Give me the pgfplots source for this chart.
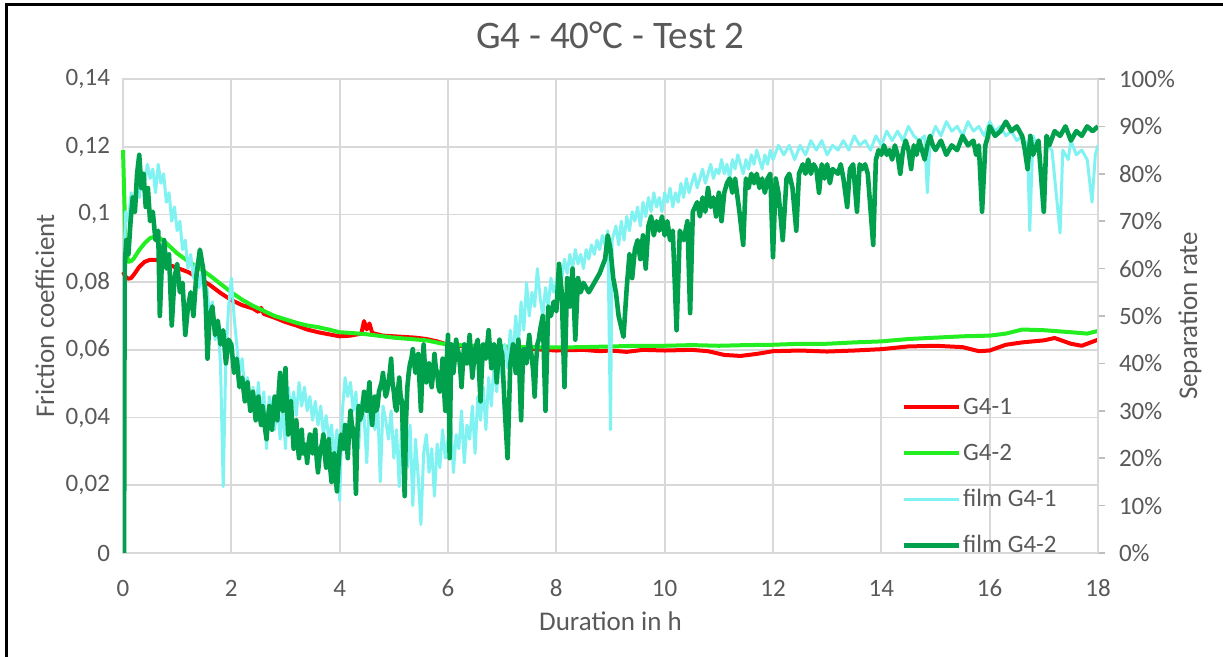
\documentclass[border=0pt]{standalone}
\usepackage{pgfplots}
\pgfplotsset{compat=1.18}
\usepackage{pgfplotstable}
\usepackage{fontspec}
\setmainfont{Carlito}
\definecolor{txt}{HTML}{595959}
\definecolor{gridc}{HTML}{D9D9D9}
\definecolor{redline}{HTML}{FF0000}
\definecolor{greenline}{HTML}{22EE22}
\definecolor{cyanline}{HTML}{80F2F2}
\definecolor{darkgreen}{HTML}{00A04C}

% friction coefficient G4-1
\pgfplotstableread{
x y
0 0.0830
0.05 0.0815
0.1 0.0810
0.15 0.0812
0.2 0.0822
0.3 0.0845
0.4 0.0860
0.5 0.0866
0.6 0.0866
0.7 0.0860
0.8 0.0853
0.9 0.0848
1.0 0.0842
1.2 0.0830
1.4 0.0812
1.6 0.0792
1.8 0.0768
2.0 0.0747
2.2 0.0732
2.4 0.0722
2.5 0.0712
2.55 0.0724
2.6 0.0706
2.8 0.0695
3.0 0.0682
3.2 0.0672
3.4 0.0660
3.6 0.0652
3.8 0.0646
4.0 0.0640
4.2 0.0642
4.4 0.0648
4.45 0.0685
4.5 0.0660
4.55 0.0678
4.6 0.0650
4.8 0.0642
5.0 0.0640
5.2 0.0638
5.4 0.0636
5.6 0.0632
5.8 0.0625
6.0 0.0615
6.2 0.0612
6.5 0.0610
7.0 0.0607
7.5 0.0603
8.0 0.0598
8.5 0.0600
8.8 0.0596
9.0 0.0598
9.3 0.0594
9.6 0.0600
10.0 0.0598
10.5 0.0600
10.8 0.0596
11.1 0.0585
11.4 0.0582
11.7 0.0588
12.0 0.0596
12.5 0.0598
13.0 0.0595
13.5 0.0598
14.0 0.0602
14.5 0.0610
15.0 0.0612
15.5 0.0608
15.8 0.0596
16.0 0.0598
16.3 0.0615
16.6 0.0622
17.0 0.0628
17.2 0.0635
17.5 0.0618
17.7 0.0612
18.0 0.0630
}\tabAa

% friction coefficient G4-2
\pgfplotstableread{
x y
0 0.1190
0.05 0.0900
0.1 0.0860
0.15 0.0862
0.2 0.0870
0.3 0.0895
0.4 0.0915
0.5 0.0930
0.6 0.0935
0.7 0.0928
0.8 0.0915
0.9 0.0900
1.0 0.0885
1.2 0.0862
1.4 0.0842
1.6 0.0820
1.8 0.0795
2.0 0.0770
2.2 0.0748
2.4 0.0730
2.6 0.0715
2.8 0.0700
3.0 0.0690
3.2 0.0680
3.4 0.0672
3.6 0.0667
3.8 0.0660
4.0 0.0652
4.2 0.0650
4.5 0.0646
4.8 0.0640
5.0 0.0636
5.3 0.0632
5.6 0.0628
6.0 0.0615
6.5 0.0612
7.0 0.0610
7.5 0.0608
8.0 0.0607
8.5 0.0608
9.0 0.0610
9.5 0.0612
10.0 0.0612
10.5 0.0614
11.0 0.0612
11.5 0.0614
12.0 0.0615
12.5 0.0618
13.0 0.0618
13.5 0.0622
14.0 0.0625
14.5 0.0632
15.0 0.0636
15.5 0.0640
16.0 0.0642
16.3 0.0648
16.6 0.0660
17.0 0.0658
17.5 0.0652
17.8 0.0648
18.0 0.0656
}\tabAb

% separation rate film G4-1 (%)
\pgfplotstableread{
x y
0 0
0.02 60
0.05 72
0.1 70
0.15 76
0.2 72
0.25 78
0.3 75
0.35 80
0.4 78
0.45 82
0.5 79
0.55 81
0.6 76
0.65 82
0.7 78
0.75 80
0.8 74
0.85 76
0.9 70
0.95 73
1.0 68
1.05 70
1.1 64
1.15 66
1.2 60
1.25 63
1.3 58
1.35 61
1.4 56
1.45 59
1.5 54
1.55 56
1.6 50
1.65 53
1.7 45
1.75 48
1.8 40
1.85 14
1.9 42
1.95 52
2.0 58
2.05 50
2.1 44
2.15 38
2.2 41
2.25 34
2.3 37
2.35 30
2.4 35
2.45 29
2.5 36
2.55 28
2.6 34
2.65 22
2.7 33
2.75 30
2.8 26
2.85 32
2.9 24
2.95 31
3.0 22
3.05 35
3.1 30
3.15 34
3.2 29
3.25 36
3.3 31
3.35 35
3.4 30
3.45 33
3.5 28
3.55 32
3.6 27
3.65 31
3.7 25
3.75 29
3.8 24
3.85 27
3.9 20
3.95 26
4.0 11
4.05 30
4.1 37
4.15 33
4.2 36
4.25 30
4.3 34
4.35 22
4.4 32
4.45 29
4.5 19
4.55 33
4.6 30
4.65 26
4.7 32
4.75 15
4.8 31
4.85 28
4.9 24
4.95 30
5.0 20
5.05 26
5.1 14
5.15 28
5.2 22
5.25 18
5.3 27
5.35 10
5.4 24
5.45 16
5.5 6
5.55 21
5.6 25
5.65 17
5.7 22
5.75 12
5.8 23
5.85 18
5.9 26
5.95 20
6.0 24
6.05 28
6.1 17
6.15 25
6.2 22
6.25 30
6.3 19
6.35 27
6.4 24
6.45 31
6.5 21
6.55 33
6.6 28
6.65 35
6.7 26
6.75 37
6.8 31
6.85 40
6.9 34
6.95 42
7.0 37
7.05 44
7.1 39
7.15 47
7.2 41
7.25 50
7.3 44
7.35 53
7.4 47
7.45 57
7.5 50
7.55 55
7.6 52
7.65 60
7.7 54
7.75 50
7.8 56
7.85 52
7.9 58
7.95 55
8.0 57
8.05 61
8.1 58
8.15 62
8.2 59
8.25 63
8.3 60
8.35 64
8.4 61
8.45 63
8.5 60
8.55 64
8.6 62
8.65 65
8.7 63
8.75 66
8.8 64
8.85 67
8.9 65
8.95 68
9.0 26
9.03 66
9.1 69
9.15 65
9.2 70
9.25 66
9.3 71
9.35 68
9.4 72
9.45 70
9.5 73
9.55 69
9.6 74
9.65 71
9.7 75
9.75 72
9.8 76
9.85 73
9.9 75
9.95 72
10.0 76
10.05 74
10.1 77
10.15 73
10.2 76
10.25 74
10.3 78
10.35 75
10.4 79
10.45 76
10.5 78
10.55 80
10.6 77
10.65 79
10.7 81
10.75 78
10.8 80
10.85 82
10.9 79
10.95 81
11.0 80
11.05 83
11.1 80
11.15 82
11.2 79
11.25 83
11.3 81
11.35 84
11.4 82
11.45 80
11.5 83
11.55 81
11.6 84
11.65 82
11.7 85
11.75 83
11.8 81
11.85 84
11.9 82
11.95 85
12.0 83
12.1 86
12.2 84
12.3 86
12.4 83
12.5 86
12.6 84
12.7 87
12.8 85
12.9 87
13.0 84
13.1 86
13.2 85
13.3 87
13.4 85
13.5 88
13.6 86
13.7 87
13.8 85
13.9 88
14.0 86
14.1 89
14.2 87
14.3 89
14.4 87
14.5 90
14.6 88
14.7 87
14.8 88
14.85 76
14.9 87
15.0 90
15.1 88
15.2 91
15.3 89
15.4 90
15.5 88
15.6 91
15.7 89
15.8 90
15.9 88
16.0 91
16.1 89
16.2 90
16.3 88
16.4 89
16.5 87
16.6 88
16.7 86
16.74 68
16.8 88
16.9 85
16.98 72
17.05 86
17.15 85
17.3 67.5
17.35 85
17.45 83
17.5 87
17.6 84
17.7 85
17.8 83
17.89 74
17.95 84
18.0 86
}\tabBa

% separation rate film G4-2 (%)
\pgfplotstableread{
x y
0 0
0.02 0
0.03 60
0.06 66
0.1 63
0.14 70
0.18 75
0.22 72
0.26 80
0.3 84
0.34 77
0.38 80
0.42 73
0.46 77
0.5 70
0.55 72
0.6 66
0.65 68
0.68 50
0.72 62
0.76 66
0.8 60
0.85 63
0.9 48
0.95 58
1.0 61
1.05 55
1.1 57
1.15 46
1.2 52
1.25 55
1.3 50
1.35 58
1.42 64
1.48 60
1.52 55
1.56 41
1.6 50
1.65 52
1.7 46
1.75 49
1.8 44
1.85 47
1.9 40
1.95 45
2.0 44
2.05 38
2.1 41
2.15 35
2.2 37
2.25 32
2.3 36
2.35 30
2.4 34
2.45 28
2.5 33
2.525 29
2.55 27
2.575 31
2.6 29
2.625 26
2.65 24
2.675 28
2.7 31
2.725 29
2.75 26
2.775 30
2.8 33
2.825 31
2.85 28
2.875 34
2.9 38
2.925 33
2.95 30
2.975 35
3.0 39
3.025 31
3.05 25
3.075 29
3.1 32
3.125 27
3.15 22
3.175 25
3.2 28
3.225 23
3.25 20
3.275 24
3.3 26
3.325 21
3.35 23
3.375 22
3.4 19
3.425 23
3.45 25
3.475 22
3.5 21
3.525 24
3.55 26
3.575 20
3.6 17
3.625 20
3.65 22
3.675 23
3.7 25
3.725 21
3.75 18
3.775 20
3.8 24
3.825 18
3.85 15
3.875 19
3.9 21
3.925 16
3.95 13
3.975 18
4.0 22
4.025 25
4.05 24
4.075 22
4.1 27
4.125 25
4.15 20
4.175 26
4.2 30
4.225 27
4.25 26
4.275 22
4.3 12.5
4.325 25
4.35 31
4.375 28
4.4 29
4.425 31
4.45 34
4.475 32
4.5 30
4.525 33
4.55 36
4.575 30
4.6 27
4.625 31
4.65 33
4.675 30
4.7 31
4.725 34
4.75 35
4.775 36
4.8 38
4.825 35
4.85 33
4.875 34
4.9 36
4.925 38
4.95 41
4.975 36
5.0 34
5.025 31
5.05 30
5.075 34
5.1 37
5.125 33
5.15 32
5.175 22
5.2 12
5.225 28
5.25 35
5.275 38
5.3 40
5.325 41
5.35 43
5.375 40
5.4 38
5.425 39
5.45 42
5.475 36
5.5 30
5.525 38
5.55 44
5.575 39
5.6 36
5.625 38
5.65 40
5.675 37
5.7 35
5.725 38
5.75 42
5.775 39
5.8 38
5.825 35
5.85 34
5.875 37
5.9 41
5.925 35
5.95 30
5.975 40
6.0 46
6.03 20
6.06 44
6.1 38
6.125 41
6.15 45
6.175 43
6.2 42
6.225 39
6.25 35
6.275 40
6.3 44
6.325 42
6.35 40
6.375 43
6.4 46
6.425 41
6.45 37
6.475 40
6.5 43
6.525 44
6.55 45
6.575 38
6.6 32
6.625 39
6.65 44
6.675 42
6.7 41
6.725 44
6.75 47
6.775 43
6.8 39
6.825 41
6.85 44
6.875 40
6.9 36
6.925 41
6.95 45
6.975 43
7.0 42
7.05 30
7.1 20
7.15 40
7.175 42
7.2 44
7.225 41
7.25 38
7.275 42
7.3 45
7.325 36
7.35 28
7.375 38
7.4 43
7.425 41
7.45 40
7.475 43
7.5 46
7.525 43
7.55 41
7.575 38
7.6 33
7.625 40
7.65 44
7.675 45
7.7 47
7.75 50
7.8 30
7.85 52
7.9 50
7.95 53
8.0 51
8.05 61
8.1 55
8.15 35
8.2 58
8.25 52
8.3 60
8.35 45
8.4 58
8.45 55
8.5 57
8.6 55
8.7 57
8.8 59
8.9 62
8.95 67
9.0 64
9.05 58
9.1 55
9.15 50
9.24 45.6
9.3 56
9.35 63
9.4 58
9.45 64
9.5 66
9.55 62
9.6 67
9.65 60
9.7 69
9.75 71
9.8 67
9.85 70
9.9 68
9.95 71
10.0 67
10.05 70
10.1 66
10.15 68
10.22 47
10.28 68
10.35 66
10.42 70
10.47 50.6
10.52 72
10.6 74
10.65 71
10.7 75
10.75 72
10.8 77
10.85 73
10.9 75
10.95 71
11.0 76
11.05 70
11.1 76
11.15 78
11.2 79
11.25 76
11.3 79
11.38 72
11.45 65
11.5 79
11.55 77
11.6 80
11.65 78
11.7 80
11.75 77
11.8 79
11.85 76
11.9 79
11.95 80
12.0 62.4
12.05 79
12.1 76
12.18 66
12.25 79
12.3 80
12.36 77
12.43 68
12.48 80
12.55 82
12.6 80
12.65 83
12.7 80
12.75 82
12.8 81
12.85 76
12.9 82
12.95 79
13.0 82
13.05 78
13.1 81
13.2 80
13.25 82
13.3 79
13.37 73
13.42 81
13.48 82
13.55 72
13.6 82
13.65 81
13.7 82
13.75 80
13.85 65
13.9 83
13.95 85
14.0 84
14.05 86
14.1 84
14.15 85
14.2 83
14.25 86
14.3 84
14.35 80
14.4 85
14.45 87
14.5 85
14.55 81
14.6 86
14.65 84
14.7 87
14.75 85
14.8 83
14.85 86
14.9 88
14.95 86
15.0 85
15.1 87
15.2 84
15.3 86
15.4 85
15.5 88
15.6 86
15.7 87
15.75 84
15.8 86
15.86 72
15.92 86
15.97 88
16.0 90
16.1 88
16.2 89
16.3 91
16.4 89
16.5 90
16.6 88
16.65 85
16.7 81
16.75 88
16.8 84
16.9 87
17.0 72
17.05 88
17.1 86
17.2 89
17.3 88
17.4 90
17.5 87
17.6 89
17.7 88
17.8 90
17.9 89
18.0 90
}\tabBb

\begin{document}
\begin{tikzpicture}
\path[use as bounding box] (-61.5pt,-52pt) rectangle (550pt,276.5pt);
\draw[line width=1.5pt] (-58pt,-52pt) -- (-58pt,274pt) -- (550pt,274pt);

\begin{axis}[
  scale only axis, width=487.5pt, height=237pt,
  xmin=0, xmax=18, ymin=0, ymax=0.14,
  xtick={0,2,4,6,8,10,12,14,16,18},
  xticklabels={0,2,4,6,8,10,12,14,16,18},
  ytick={0,0.02,0.04,0.06,0.08,0.1,0.12,0.14},
  yticklabels={0,{0,02},{0,04},{0,06},{0,08},{0,1},{0,12},{0,14}},
  grid=major, grid style={gridc, line width=0.9pt},
  axis line style={gridc, line width=0.9pt},
  major tick length=0pt,
  tick label style={font=\fontsize{12.5}{14}\selectfont, text=txt},
  xticklabel style={anchor=center, yshift=-17.5pt},
  yticklabel style={anchor=east, xshift=-3pt},
  label style={font=\fontsize{13.5}{15}\selectfont, text=txt},
  xlabel={Duration in h},
  xlabel style={at={(axis description cs:0.5,-0.1435)}, anchor=center},
  ylabel={Friction coefficient},
  ylabel style={at={(axis description cs:-0.08,0.5)}, anchor=center},
  title={G4 - 40°C - Test 2},
  title style={at={(axis description cs:0.5,1.0675)}, anchor=center,
    font=\fontsize{19.5}{22}\selectfont, text=txt},
  clip=false,
]
\addplot[redline, line width=2pt, line join=round] table[x=x,y=y] {\tabAa};
\addplot[greenline, line width=2pt, line join=round] table[x=x,y=y] {\tabAb};
\end{axis}

\begin{axis}[
  scale only axis, width=487.5pt, height=237pt,
  xmin=0, xmax=18, ymin=0, ymax=100,
  axis x line=none, axis y line*=right,
  ytick={0,10,20,30,40,50,60,70,80,90,100},
  yticklabels={0\%,10\%,20\%,30\%,40\%,50\%,60\%,70\%,80\%,90\%,100\%},
  tick align=outside, major tick length=3.5pt,
  tick style={gridc!70!gray, line width=0.8pt},
  axis line style={gridc, line width=0.9pt},
  tick label style={font=\fontsize{12.5}{14}\selectfont, text=txt},
  yticklabel style={anchor=west, xshift=3.5pt},
  label style={font=\fontsize{13.5}{15}\selectfont, text=txt},
  ylabel={Separation rate},
  ylabel style={at={(axis description cs:1.0944,0.5)}, anchor=center},
  legend style={at={(axis description cs:0.792,0.344)}, anchor=north west,
    draw=none, fill=none, font=\fontsize{12.5}{14}\selectfont, text=txt,
    row sep=10pt, nodes={inner sep=1pt, text height=9pt, text depth=2pt}},
  legend cell align=left,
  legend image code/.code={\draw[#1] (-2pt,0pt) -- (25.5pt,0pt);},
]
\addlegendimage{redline, line width=2pt}
\addlegendentry{G4-1}
\addlegendimage{greenline, line width=2pt}
\addlegendentry{G4-2}
\addplot[cyanline, line width=1.5pt, line join=round] table[x=x,y=y] {\tabBa};
\addlegendentry{film G4-1}
\addplot[darkgreen, line width=2.3pt, line join=round] table[x=x,y=y] {\tabBb};
\addlegendentry{film G4-2}
\end{axis}
\end{tikzpicture}
\end{document}
